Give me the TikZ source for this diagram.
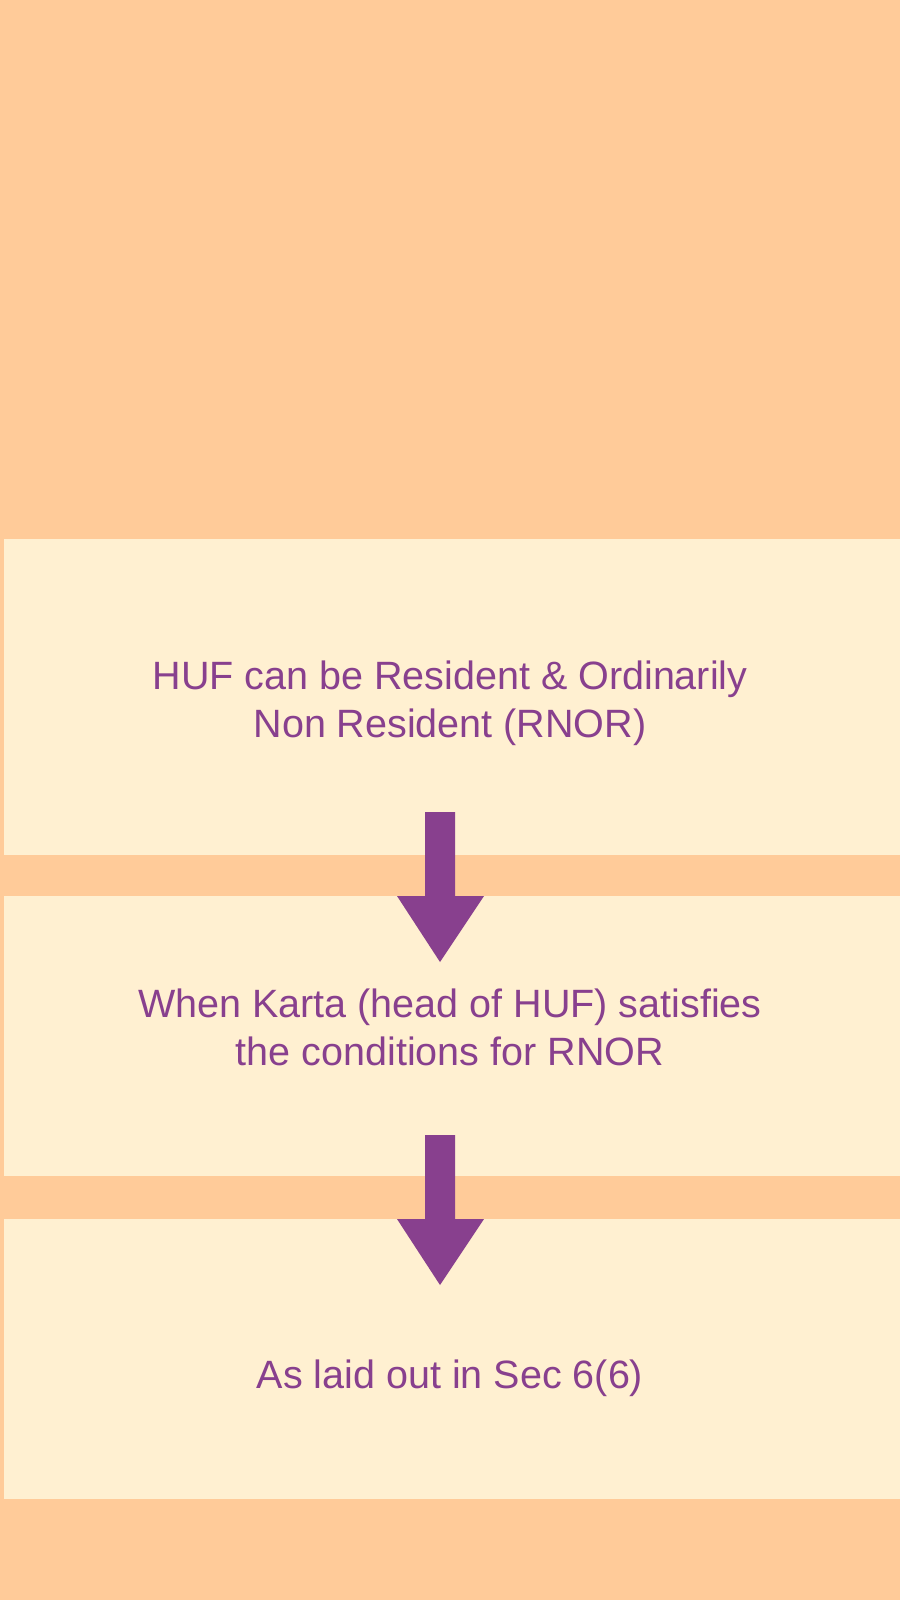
\documentclass[tikz,border=0pt]{standalone}
\usepackage{fontspec}
\setmainfont{Liberation Sans}
\definecolor{bgorange}{HTML}{FFCB99}
\definecolor{boxfill}{HTML}{FFF0D1}
\definecolor{arrowpurple}{HTML}{88408E}
\tikzset{
  panel/.style={fill=boxfill, draw=none, anchor=north west, minimum width=896pt, inner sep=0pt, outer sep=0pt},
  label/.style={text=arrowpurple, align=center, anchor=base, inner sep=0pt, font=\fontsize{39.5}{48}\selectfont},
  blockarrow/.style={fill=arrowpurple, draw=none}
}
\begin{document}
\begin{tikzpicture}[x=1pt,y=-1pt]
\fill[bgorange] (0,0) rectangle (900,1600);
\useasboundingbox (0,0) rectangle (900,1600);
\node[panel, minimum height=316pt] (b1) at (4,539) {};
\node[panel, minimum height=280pt] (b2) at (4,896) {};
\node[panel, minimum height=280pt] (b3) at (4,1219) {};
\node[label] (t1) at (450,737) {HUF can be Resident \& Ordinarily\\Non Resident (RNOR)};
\node[label] (t2) at (450,1065) {When Karta (head of HUF) satisfies\\the conditions for RNOR};
\node[label] (t3) at (450,1388) {As laid out in Sec 6(6)};
\fill[blockarrow] (425,812) -- (455,812) -- (455,896) -- (484,896) -- (440,962) -- (397,896) -- (425,896) -- cycle;
\fill[blockarrow] (425,1135) -- (455,1135) -- (455,1219) -- (484,1219) -- (440,1285) -- (397,1219) -- (425,1219) -- cycle;
\end{tikzpicture}
\end{document}
